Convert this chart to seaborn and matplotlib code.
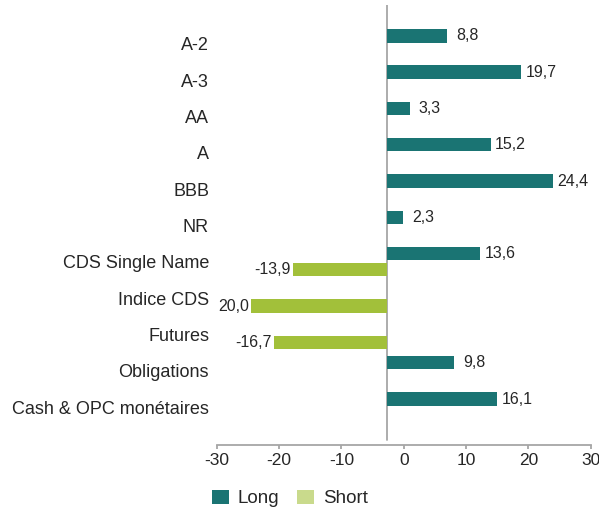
import matplotlib
matplotlib.use("Agg")
import matplotlib.pyplot as plt
import seaborn as sns
import pandas as pd
from matplotlib.patches import Patch

categories = ["A-2", "A-3", "AA", "A", "BBB", "NR", "CDS Single Name",
              "Indice CDS", "Futures", "Obligations", "Cash & OPC monétaires"]
long_categories = ["A-2", "A-3", "AA", "A", "BBB", "NR", "CDS Single Name",
                   "Obligations", "Cash & OPC monétaires"]
long_values = [8.8, 19.7, 3.3, 15.2, 24.4, 2.3, 13.6, 9.8, 16.1]
short_categories = ["CDS Single Name", "Indice CDS", "Futures"]
short_values = [-13.9, -20.0, -16.7]
short_labels = ["-13,9", "20,0", "-16,7"]
series = ["Long", "Short"]
axis_ticks = [-30, -20, -10, 0, 10, 20, 30]

sns.set_theme(style="white")
plt.rcParams["font.family"] = ["Liberation Sans", "DejaVu Sans"]
plt.rcParams["axes.unicode_minus"] = False

TEXT = "#262626"
GRAY = "#a6a6a6"
LONG_C = "#1a7473"
SHORT_C = "#a2c03a"
SHORT_LEG = "#c9da8c"

df = pd.concat([
    pd.DataFrame({"cat": long_categories, "type": series[0], "val": long_values}),
    pd.DataFrame({"cat": short_categories, "type": series[1], "val": short_values}),
], ignore_index=True)

W, H, DPI = 599, 511, 100
fig = plt.figure(figsize=(W / DPI, H / DPI), dpi=DPI)
left_px, right_px, top_px, bot_px = 216.7, 590.7, 5.0, 444.5
ax = fig.add_axes([left_px / W, 1 - bot_px / H, (right_px - left_px) / W, (bot_px - top_px) / H])

sns.barplot(data=df, y="cat", x="val", hue="type", order=categories,
            hue_order=series, palette=[LONG_C, SHORT_C], orient="h",
            width=0.88, gap=0.15, dodge=True, ax=ax, legend=True,
            saturation=1, edgecolor="none", linewidth=0)

# bar scale (6.8 px per unit, zero at x=387.3 px)
zero_px, px_per_unit = 387.3, 6.8
ax.set_xlim((left_px - zero_px) / px_per_unit, (right_px - zero_px) / px_per_unit)
cat_step = 36.33
c0 = 43.7
ax.set_ylim((bot_px - c0) / cat_step, (top_px - c0) / cat_step)

for s in ax.spines.values():
    s.set_visible(False)
ax.set_xticks([])
ax.set_xlabel("")
ax.set_ylabel("")
ax.axvline(0, ymin=(bot_px - 440) / (bot_px - top_px), ymax=1, color=GRAY, lw=1.3, zorder=0)

# value labels
for cont, lab in zip(ax.containers, series):
    for bar in cont:
        w = bar.get_width()
        yc = bar.get_y() + bar.get_height() / 2
        if lab == "Long":
            txt = f"{w:.1f}".replace(".", ",")
            ax.annotate(txt, (w, yc), xytext=(14.4, 0), textcoords="offset points",
                        ha="center", va="center", fontsize=11.5, color=TEXT)
        else:
            idx = int(round(yc))
            cat = categories[idx]
            txt = short_labels[short_categories.index(cat)]
            ax.annotate(txt, (w, yc), xytext=(-1.5, 0), textcoords="offset points",
                        ha="right", va="center", fontsize=11.5, color=TEXT)

# legend
leg = ax.get_legend()
if leg is not None:
    leg.remove()
hs = [Patch(facecolor=LONG_C, edgecolor="none"), Patch(facecolor=SHORT_LEG, edgecolor="none")]
fig.legend(hs, series, loc="center left", bbox_to_anchor=(211.7 / W, 1 - 498.5 / H),
           ncol=2, frameon=False, fontsize=13.5, handlelength=0.9, handleheight=0.83,
           handletextpad=0.45, columnspacing=1.0, borderpad=0, borderaxespad=0,
           labelcolor=TEXT)

# displayed axis scale
twin = ax.twiny()
twin.set_xlim(axis_ticks[0], axis_ticks[-1])
twin.set_xticks(axis_ticks)
twin.xaxis.set_ticks_position("bottom")
twin.xaxis.set_label_position("bottom")
for k, s in twin.spines.items():
    s.set_visible(k == "bottom")
twin.spines["bottom"].set_color(GRAY)
twin.spines["bottom"].set_linewidth(1.3)
twin.tick_params(axis="x", direction="out", length=3, width=1.3, color=GRAY,
                 labelsize=12.5, labelcolor=TEXT, pad=3)

ax.tick_params(axis="y", left=False, length=0, pad=5.5, labelsize=13, labelcolor=TEXT, labelleft=True)

fig.savefig("out.png", dpi=DPI)
